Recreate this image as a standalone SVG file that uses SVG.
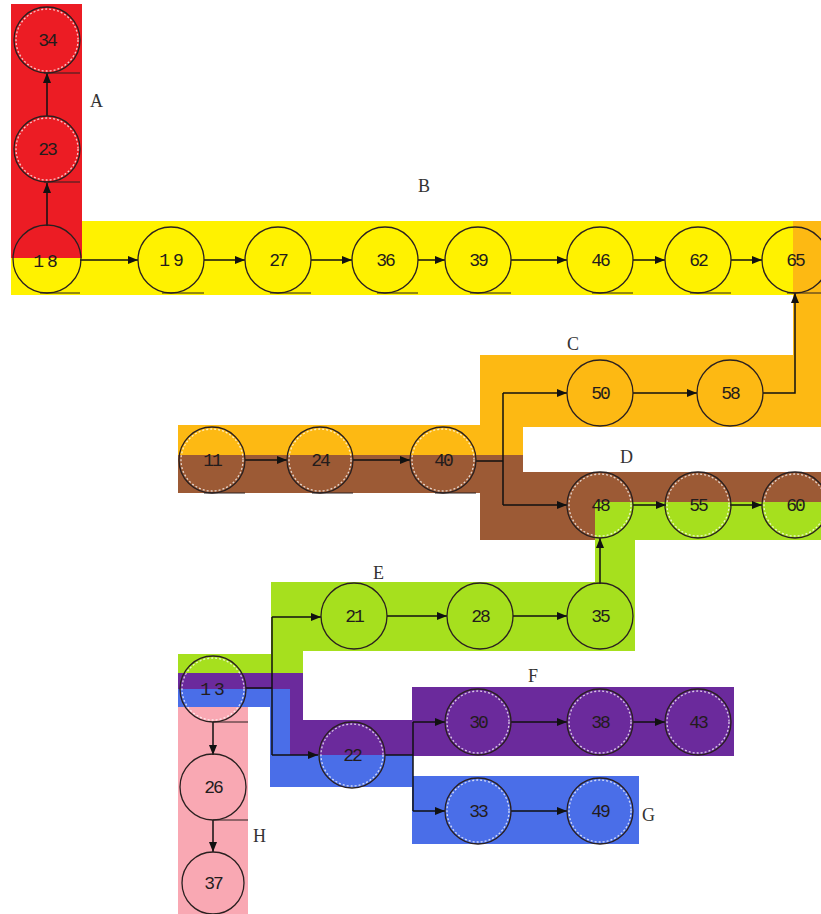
<svg xmlns="http://www.w3.org/2000/svg" width="821" height="914" viewBox="0 0 821 914">
<style>
.n{fill:none;stroke:#2a2020;stroke-width:1.3}
.d{fill:none;stroke:#ffffff;stroke-width:1.3;stroke-dasharray:2 2;opacity:0.75}
.u{stroke:#2a2020;stroke-width:1}
.t{font-family:"Liberation Mono","DejaVu Sans Mono",monospace;font-size:18px;text-anchor:middle;fill:#231c1c;letter-spacing:-2px}
.l{font-family:"Liberation Serif","DejaVu Serif",serif;font-size:18px;fill:#333}
.c{fill:none;stroke:#111;stroke-width:1.5;marker-end:url(#ah)}
.p{fill:none;stroke:#111;stroke-width:1.5}
</style>
<defs>
<marker id="ah" markerWidth="10" markerHeight="8" refX="10" refY="4" orient="auto" markerUnits="userSpaceOnUse">
<path d="M0,0 L10,4 L0,8 Z" fill="#111"/>
</marker>
</defs>
<rect width="821" height="914" fill="#ffffff"/>
<g id="bands">
<rect x="11" y="221" width="810" height="74" fill="#fff200"/>
<rect x="11" y="4" width="71" height="254" fill="#ec1c24"/>
<rect x="793" y="221" width="28" height="204" fill="#fdb913"/>
<rect x="480" y="355" width="341" height="72" fill="#fdb913"/>
<rect x="178" y="425" width="345" height="30" fill="#fdb913"/>
<rect x="178" y="455" width="345" height="38" fill="#9c5a35"/>
<rect x="480" y="455" width="43" height="85" fill="#9c5a35"/>
<rect x="523" y="472" width="298" height="68" fill="#9c5a35"/>
<rect x="595" y="502" width="226" height="38" fill="#a6e01e"/>
<rect x="595" y="502" width="40" height="149" fill="#a6e01e"/>
<rect x="271" y="582" width="364" height="69" fill="#a6e01e"/>
<rect x="271" y="582" width="32" height="91" fill="#a6e01e"/>
<rect x="178" y="654" width="125" height="19" fill="#a6e01e"/>
<rect x="178" y="673" width="125" height="16" fill="#6b2a9c"/>
<rect x="290" y="673" width="13" height="82" fill="#6b2a9c"/>
<rect x="290" y="720" width="123" height="35" fill="#6b2a9c"/>
<rect x="412" y="687" width="322" height="69" fill="#6b2a9c"/>
<rect x="178" y="689" width="92" height="18" fill="#4a6ee8"/>
<rect x="270" y="689" width="20" height="98" fill="#4a6ee8"/>
<rect x="270" y="755" width="143" height="32" fill="#4a6ee8"/>
<rect x="412" y="776" width="227" height="68" fill="#4a6ee8"/>
<rect x="178" y="707" width="70" height="207" fill="#f9a8b3"/>
</g>
<g id="labels">
<text class="l" x="90" y="107">A</text>
<text class="l" x="418" y="192">B</text>
<text class="l" x="567" y="350">C</text>
<text class="l" x="620" y="463">D</text>
<text class="l" x="373" y="579">E</text>
<text class="l" x="528" y="682">F</text>
<text class="l" x="642" y="821">G</text>
<text class="l" x="253" y="842">H</text>
</g>
<g id="connectors">
<line class="c" x1="47" y1="226" x2="47" y2="183"/>
<line class="c" x1="47" y1="116" x2="47" y2="73"/>
<line class="c" x1="80" y1="260" x2="138" y2="260"/>
<line class="c" x1="204" y1="260" x2="245" y2="260"/>
<line class="c" x1="311" y1="260" x2="352" y2="260"/>
<line class="c" x1="418" y1="260" x2="445" y2="260"/>
<line class="c" x1="511" y1="260" x2="567" y2="260"/>
<line class="c" x1="633" y1="260" x2="665" y2="260"/>
<line class="c" x1="731" y1="260" x2="762" y2="260"/>
<line class="c" x1="245" y1="460" x2="287" y2="460"/>
<line class="c" x1="353" y1="460" x2="410" y2="460"/>
<path class="p" d="M476,461 H503 M503,393 V505"/>
<line class="c" x1="503" y1="393" x2="567" y2="393"/>
<line class="c" x1="503" y1="505" x2="567" y2="505"/>
<line class="c" x1="633" y1="393" x2="697" y2="393"/>
<path class="c" d="M763,393 H795 V293"/>
<line class="c" x1="633" y1="505" x2="666" y2="505"/>
<line class="c" x1="730" y1="505" x2="762" y2="505"/>
<line class="c" x1="600" y1="584" x2="600" y2="538"/>
<path class="p" d="M246,688 H272 M272,617 V755"/>
<line class="c" x1="272" y1="617" x2="321" y2="617"/>
<line class="c" x1="272" y1="755" x2="318" y2="755"/>
<line class="c" x1="387" y1="616" x2="447" y2="616"/>
<line class="c" x1="513" y1="616" x2="567" y2="616"/>
<path class="p" d="M385,755 H413 M413,722 V811"/>
<line class="c" x1="413" y1="722" x2="445" y2="722"/>
<line class="c" x1="413" y1="811" x2="445" y2="811"/>
<line class="c" x1="511" y1="722" x2="567" y2="722"/>
<line class="c" x1="633" y1="722" x2="665" y2="722"/>
<line class="c" x1="511" y1="811" x2="567" y2="811"/>
<line class="c" x1="213" y1="722" x2="213" y2="755"/>
<line class="c" x1="213" y1="820" x2="213" y2="852"/>
</g>
<g id="n34"><circle class="n" cx="47" cy="40" r="33"/><circle class="d" cx="47" cy="40" r="31"/><line class="u" x1="44" y1="73" x2="80" y2="73"/><text class="t" x="47" y="46">34</text></g>
<g id="n23"><circle class="n" cx="47" cy="149" r="33"/><circle class="d" cx="47" cy="149" r="31"/><line class="u" x1="44" y1="182" x2="80" y2="182"/><text class="t" x="47" y="155">23</text></g>
<g id="n18"><circle class="n" cx="47" cy="259" r="34"/><line class="u" x1="40" y1="293" x2="80" y2="293"/><text class="t" x="47" y="267" style="letter-spacing:3px">18</text></g>
<g id="n19"><circle class="n" cx="171" cy="260" r="33"/><line class="u" x1="162" y1="293" x2="204" y2="293"/><text class="t" x="173" y="266" style="letter-spacing:3px">19</text></g>
<g id="n27"><circle class="n" cx="278" cy="260" r="33"/><line class="u" x1="270" y1="293" x2="311" y2="293"/><text class="t" x="278" y="266">27</text></g>
<g id="n36"><circle class="n" cx="385" cy="260" r="33"/><line class="u" x1="377" y1="293" x2="418" y2="293"/><text class="t" x="385" y="266">36</text></g>
<g id="n39"><circle class="n" cx="478" cy="260" r="33"/><line class="u" x1="470" y1="293" x2="511" y2="293"/><text class="t" x="478" y="266">39</text></g>
<g id="n46"><circle class="n" cx="600" cy="260" r="33"/><line class="u" x1="592" y1="293" x2="633" y2="293"/><text class="t" x="600" y="266">46</text></g>
<g id="n62"><circle class="n" cx="698" cy="260" r="33"/><line class="u" x1="690" y1="293" x2="731" y2="293"/><text class="t" x="698" y="266">62</text></g>
<g id="n65"><circle class="n" cx="795" cy="260" r="33"/><line class="u" x1="787" y1="293" x2="821" y2="293"/><text class="t" x="795" y="266">65</text></g>
<g id="n50"><circle class="n" cx="600" cy="393" r="33"/><text class="t" x="600" y="399">50</text></g>
<g id="n58"><circle class="n" cx="730" cy="393" r="33"/><text class="t" x="730" y="399">58</text></g>
<g id="n11"><circle class="n" cx="212" cy="460" r="33"/><circle class="d" cx="212" cy="460" r="31"/><line class="u" x1="204" y1="493" x2="245" y2="493"/><text class="t" x="212" y="466">11</text></g>
<g id="n24"><circle class="n" cx="320" cy="460" r="33"/><circle class="d" cx="320" cy="460" r="31"/><line class="u" x1="312" y1="493" x2="353" y2="493"/><text class="t" x="320" y="466">24</text></g>
<g id="n40"><circle class="n" cx="443" cy="460" r="33"/><circle class="d" cx="443" cy="460" r="31"/><line class="u" x1="435" y1="493" x2="476" y2="493"/><text class="t" x="443" y="466">40</text></g>
<g id="n48"><circle class="n" cx="600" cy="505" r="33"/><circle class="d" cx="600" cy="505" r="31"/><text class="t" x="600" y="511">48</text></g>
<g id="n55"><circle class="n" cx="698" cy="505" r="33"/><circle class="d" cx="698" cy="505" r="31"/><text class="t" x="698" y="511">55</text></g>
<g id="n60"><circle class="n" cx="795" cy="505" r="33"/><circle class="d" cx="795" cy="505" r="31"/><text class="t" x="795" y="511">60</text></g>
<g id="n21"><circle class="n" cx="354" cy="616" r="33"/><text class="t" x="354" y="622">21</text></g>
<g id="n28"><circle class="n" cx="480" cy="616" r="33"/><text class="t" x="480" y="622">28</text></g>
<g id="n35"><circle class="n" cx="600" cy="616" r="33"/><text class="t" x="600" y="622">35</text></g>
<g id="n13"><circle class="n" cx="213" cy="689" r="33"/><circle class="d" cx="213" cy="689" r="31"/><line class="u" x1="213" y1="722" x2="248" y2="722"/><text class="t" x="214" y="695" style="letter-spacing:3px">13</text></g>
<g id="n22"><circle class="n" cx="352" cy="755" r="33"/><circle class="d" cx="352" cy="755" r="31"/><text class="t" x="352" y="761">22</text></g>
<g id="n30"><circle class="n" cx="478" cy="722" r="33"/><circle class="d" cx="478" cy="722" r="31"/><text class="t" x="478" y="728">30</text></g>
<g id="n38"><circle class="n" cx="600" cy="722" r="33"/><circle class="d" cx="600" cy="722" r="31"/><text class="t" x="600" y="728">38</text></g>
<g id="n43"><circle class="n" cx="698" cy="722" r="33"/><circle class="d" cx="698" cy="722" r="31"/><text class="t" x="698" y="728">43</text></g>
<g id="n33"><circle class="n" cx="478" cy="811" r="33"/><circle class="d" cx="478" cy="811" r="31"/><text class="t" x="478" y="817">33</text></g>
<g id="n49"><circle class="n" cx="600" cy="811" r="33"/><circle class="d" cx="600" cy="811" r="31"/><text class="t" x="600" y="817">49</text></g>
<g id="n26"><circle class="n" cx="213" cy="787" r="33"/><line class="u" x1="213" y1="820" x2="248" y2="820"/><text class="t" x="213" y="793">26</text></g>
<g id="n37"><circle class="n" cx="213" cy="883" r="31"/><text class="t" x="213" y="889">37</text></g>
</svg>
